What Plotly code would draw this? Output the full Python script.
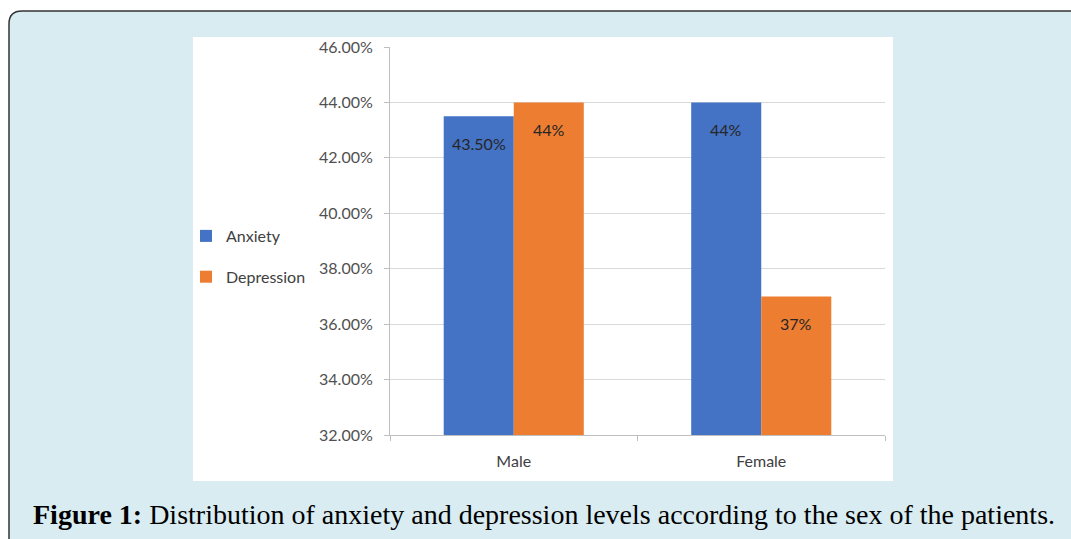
import plotly.graph_objects as go

categories = ["Male", "Female"]
anxiety = [43.5, 44.0]
depression = [44.0, 37.0]
anxiety_labels = ["43.50%", "44%"]
depression_labels = ["44%", "37%"]
series_names = ["Anxiety", "Depression"]
series_colors = ["#4472C4", "#ED7D31"]
y_ticks = [32, 34, 36, 38, 40, 42, 44, 46]
caption = "<b>Figure 1:</b> Distribution of anxiety and depression levels according to the sex of the patients."

W, H = 1071, 539
L, R, T, B = 390, 186, 47, 104
PW, PH = W - L - R, H - T - B
BARGAP = 0.434


def px_x(px):
    return (px - L) / PW


def px_y(py):
    return (H - B - py) / PH


fig = go.Figure()
for name, vals, col in zip(series_names, [anxiety, depression], series_colors):
    fig.add_trace(go.Bar(x=categories, y=vals, name=name, marker_color=col,
                         marker_line_width=0, legendgroup=name))

# data labels just inside the bar tops
bar_px = PW / len(categories) * (1 - BARGAP) / 2
annotations = []
for i, (vals, labels) in enumerate([(anxiety, anxiety_labels), (depression, depression_labels)]):
    shift = (i - 0.5) * bar_px
    for c, v, t in zip(categories, vals, labels):
        annotations.append(dict(x=c, y=v, xref="x", yref="y", text=t, showarrow=False,
                                xshift=shift, yshift=-27, yanchor="middle",
                                font=dict(family="Lato", size=16, color="#262626")))

annotations.append(dict(x=px_x(31), y=px_y(514), xref="paper", yref="paper", text=caption,
                        showarrow=False, xanchor="left", yanchor="middle",
                        font=dict(family="Liberation Serif, serif", size=28, color="#000000")))


def P(x, y):
    return f"{px_x(x):.5f},{px_y(y):.5f}"


outer = (f"M{P(9, 560)} L{P(9, 24)} Q{P(9, 11)} {P(22, 11)} L{P(1090, 11)} "
         f"L{P(1090, 560)} Z")
shapes = [
    dict(type="path", path=outer, xref="paper", yref="paper", layer="below",
         fillcolor="#D9ECF2", line=dict(color="#333333", width=1.5)),
    dict(type="rect", xref="paper", yref="paper", x0=px_x(193), x1=px_x(893),
         y0=px_y(481), y1=px_y(37), layer="below", fillcolor="#FFFFFF", line=dict(width=0)),
]

fig.update_layout(
    width=W, height=H,
    margin=dict(l=L, r=R, t=T, b=B, pad=0),
    paper_bgcolor="#FFFFFF",
    plot_bgcolor="rgba(0,0,0,0)",
    barmode="group", bargap=BARGAP, bargroupgap=0,
    shapes=shapes,
    annotations=annotations,
    showlegend=True,
    legend=dict(x=px_x(186), xanchor="left", y=px_y(219), yanchor="top",
                font=dict(family="Lato", size=16, color="#404040"),
                bgcolor="rgba(0,0,0,0)", tracegroupgap=17, itemwidth=30),
    xaxis=dict(type="category", showline=True, linecolor="#BFBFBF", linewidth=1,
               ticks="outside", tickson="boundaries", ticklen=5, tickcolor="#BFBFBF",
               tickfont=dict(family="Lato", size=16, color="#404040"),
               ticklabelstandoff=12, showgrid=False),
    yaxis=dict(range=[y_ticks[0], y_ticks[-1]], tickvals=y_ticks,
               ticktext=[f"{v:.2f}%" for v in y_ticks],
               showgrid=True, gridcolor="#D9D9D9", gridwidth=1,
               showline=True, linecolor="#BFBFBF", linewidth=1, ticks="outside",
               ticklen=5, tickcolor="#BFBFBF", zeroline=False,
               tickfont=dict(family="Lato", size=16, color="#505050"),
               ticklabelstandoff=8),
)

fig.write_html("out.html")
